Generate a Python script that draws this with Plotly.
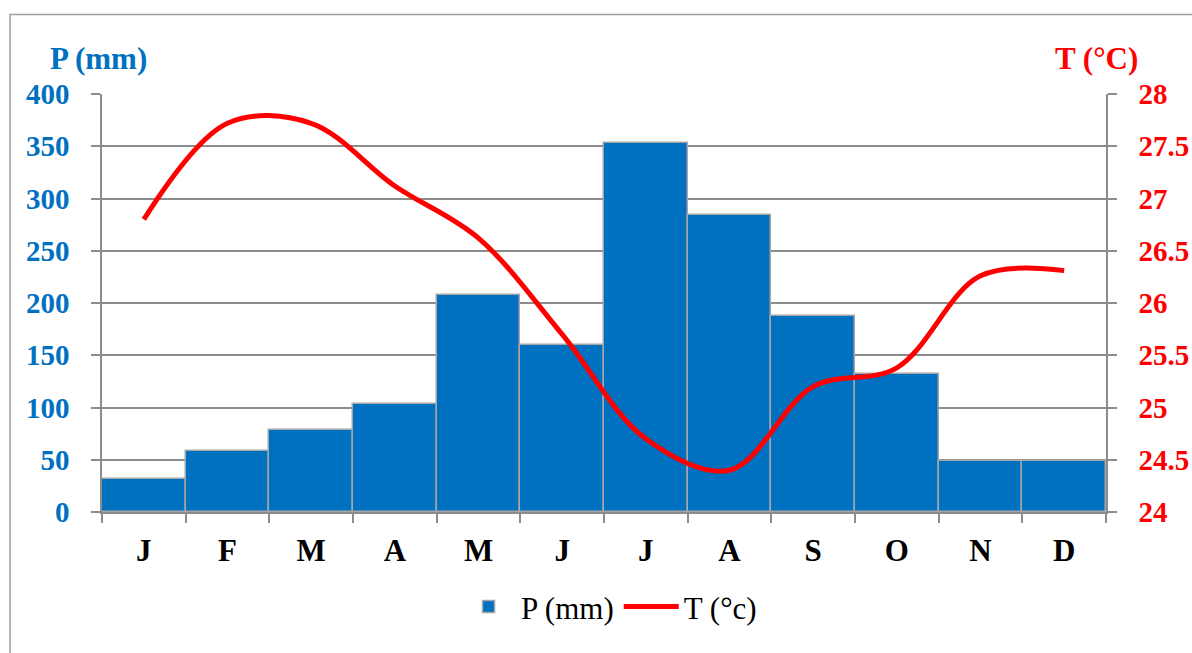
import plotly.graph_objects as go

months = ["J", "F", "M", "A", "M ", "J ", "J  ", "A ", "S", "O", "N", "D"]
precip_mm = [32, 58, 78, 103, 208, 160, 353, 284, 188, 132, 49, 49]
temp_c = [26.8, 27.72, 27.72, 27.12, 26.62, 25.7, 24.7, 24.4, 25.2, 25.38, 26.26, 26.31]
p_ticks = list(range(0, 401, 50))
t_ticks = [24, 24.5, 25, 25.5, 26, 26.5, 27, 27.5, 28]
t_ticklabels = ["24", "24.5", "25", "25.5", "26", "26.5", "27", "27.5", "28"]

BLUE = "#0070C0"
RED = "#FF0000"
GRID = "#8C8C8C"
FONT = "Liberation Serif"

fig = go.Figure()
fig.add_trace(go.Bar(
    x=months, y=precip_mm, name="P (mm)", width=1,
    marker=dict(color=BLUE, line=dict(color="#A6A6A6", width=1.5)),
    yaxis="y",
))
fig.add_trace(go.Scatter(
    x=months, y=temp_c, name="T (°c)", mode="lines",
    line=dict(color=RED, width=5, shape="spline", smoothing=1.0),
    yaxis="y2",
))

fig.update_layout(
    width=1192, height=653,
    margin=dict(l=102, r=86, t=94, b=141, autoexpand=False),
    paper_bgcolor="white", plot_bgcolor="white",
    bargap=0,
    showlegend=True,
    legend=dict(orientation="h", x=0.505, xanchor="center", y=-0.227, yanchor="middle",
                font=dict(family=FONT, size=31, color="black"), itemwidth=55),
    xaxis=dict(
        type="category", tickmode="array", tickvals=months,
        ticktext=[m.strip() for m in months],
        showline=True, linecolor=GRID, linewidth=1.5,
        ticks="outside", ticklen=9, tickcolor=GRID, tickwidth=1.5,
        tickson="boundaries", showgrid=False, automargin=False,
        tickfont=dict(family=FONT, size=31, color="black", weight="bold"),
        ticklabelstandoff=10,
    ),
    yaxis=dict(
        range=[0, 400], tickvals=p_ticks,
        showline=True, linecolor=GRID, linewidth=1.5,
        ticks="outside", ticklen=9, tickcolor=GRID, tickwidth=1.5,
        showgrid=True, gridcolor=GRID, gridwidth=1.5, zeroline=False,
        automargin=False,
        tickfont=dict(family=FONT, size=29, color=BLUE, weight="bold"),
        ticklabelstandoff=16,
    ),
    yaxis2=dict(
        range=[24, 28], tickvals=t_ticks, ticktext=t_ticklabels,
        overlaying="y", side="right",
        showline=True, linecolor=GRID, linewidth=1.5,
        ticks="outside", ticklen=9, tickcolor=GRID, tickwidth=1.5,
        showgrid=False, zeroline=False, automargin=False,
        tickfont=dict(family=FONT, size=29, color=RED, weight="bold"),
        ticklabelstandoff=16,
    ),
    annotations=[
        dict(text="P (mm)", xref="paper", yref="paper", x=-0.003, y=1.084,
             xanchor="center", yanchor="middle", showarrow=False,
             font=dict(family=FONT, size=31, color=BLUE, weight="bold")),
        dict(text="T (°C)", xref="paper", yref="paper", x=0.991, y=1.086,
             xanchor="center", yanchor="middle", showarrow=False,
             font=dict(family=FONT, size=31, color=RED, weight="bold")),
    ],
    shapes=[
        dict(type="rect", xref="paper", yref="paper",
             x0=-0.0916, x1=1.09, y0=-0.45, y1=1.19,
             line=dict(color="#A0A0A0", width=1.5), fillcolor="rgba(0,0,0,0)",
             layer="below"),
    ],
)

fig.write_html("out.html", config={"displayModeBar": False},
               post_script="document.body.style.margin='0px';")
